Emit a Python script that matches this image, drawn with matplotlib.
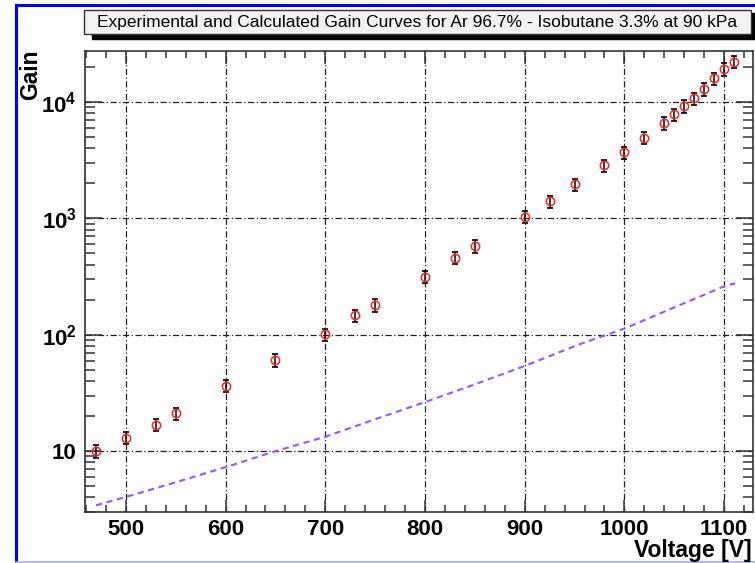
import matplotlib
matplotlib.use("Agg")
import matplotlib.pyplot as plt
import matplotlib.ticker as mticker
from matplotlib.lines import Line2D
from matplotlib.patches import Rectangle

# --- data
voltage = [470, 500, 530, 550, 600, 650, 700, 730, 750, 800, 830, 850, 900,
           925, 950, 980, 1000, 1020, 1040, 1050, 1060, 1070, 1080, 1090,
           1100, 1110]
gain = [10.0, 13.1, 16.9, 21.1, 36.3, 60.5, 101, 147, 180, 316, 458, 578,
        1030, 1400, 1960, 2860, 3700, 4940, 6590, 7830, 9250, 10750, 12950,
        16000, 19200, 22300]
rel_err = [0.12] * len(gain)

calc_voltage = [470, 500, 550, 600, 650, 700, 750, 800, 850, 900, 955, 1000,
                1050, 1100, 1111]
calc_gain = [3.42, 4.04, 5.4, 7.28, 10.0, 13.3, 18.8, 26.4, 37.5, 54, 83, 113,
             172, 261, 277]

TITLE = "Experimental and Calculated Gain Curves for Ar 96.7% - Isobutane 3.3% at 90 kPa"

plt.rcParams["font.family"] = ["Liberation Sans", "DejaVu Sans"]
plt.rcParams["mathtext.fontset"] = "custom"
plt.rcParams["mathtext.rm"] = "Liberation Sans:bold"
plt.rcParams["mathtext.it"] = "Liberation Sans:bold"
plt.rcParams["mathtext.bf"] = "Liberation Sans:bold"

W, H = 755, 563
fig = plt.figure(figsize=(W / 100, H / 100), dpi=100)
fig.patch.set_facecolor("white")


def px(x, y):
    """pixel (from top-left) -> figure fraction"""
    return x / W, 1 - y / H


# slide frame lines
fig.add_artist(Line2D([16 / W, 16 / W], [0, px(0, 5)[1]], color="#0000ff", lw=2.2))
fig.add_artist(Line2D([16 / W, 1], [px(0, 5)[1]] * 2, color="#0000ff", lw=2.2))
fig.add_artist(Line2D([16 / W, 1], [px(0, 561.5)[1]] * 2, color="#a8a8ff", lw=1.2))

# plot area
x0, y0 = px(85, 512)
x1, y1 = px(753, 51)
ax = fig.add_axes([x0, y0, x1 - x0, y1 - y0])

grid_style = dict(color="#202020", lw=0.9, linestyle=(0, (5, 2, 1, 2)))
ax.set_yscale("log")
ax.set_xlim(459, 1129)
ax.set_ylim(3.0, 27500)

ax.xaxis.set_major_locator(mticker.MultipleLocator(100))
ax.xaxis.set_minor_locator(mticker.MultipleLocator(20))
ax.yaxis.set_major_locator(mticker.FixedLocator([10, 100, 1000, 10000]))
ax.yaxis.set_major_formatter(mticker.FixedFormatter(
    ["10", "$10^{2}$", "$10^{3}$", "$10^{4}$"]))
ax.yaxis.set_minor_locator(mticker.LogLocator(base=10, subs=range(2, 10), numticks=20))
ax.yaxis.set_minor_formatter(mticker.NullFormatter())
ax.grid(True, which="major", **grid_style)

ax.tick_params(which="both", direction="in", top=True, right=True,
               color="#333333", width=1.1, labelsize=16)
ax.tick_params(axis="x", which="major", length=9, pad=5)
ax.tick_params(axis="y", which="major", length=12, pad=6)
ax.tick_params(axis="x", which="minor", length=5)
ax.tick_params(axis="y", which="minor", length=7)
for lab in ax.get_xticklabels() + ax.get_yticklabels():
    lab.set_fontweight("bold")
for sp in ax.spines.values():
    sp.set_color("#333333")
    sp.set_linewidth(1.2)

# calculated curve
ax.plot(calc_voltage, calc_gain, color="#a050ff", lw=1.5,
        linestyle=(0, (3.0, 2.2)), zorder=2)

# experimental points with errors
errs = [g * e for g, e in zip(gain, rel_err)]
ax.errorbar(voltage, gain, yerr=errs, fmt="none", ecolor="black",
            elinewidth=1.1, capsize=2.5, capthick=1.2, zorder=3)
ax.plot(voltage, gain, "o", mfc="none", mec="#ff2020", mew=1.1, ms=6, zorder=4)

# axis titles (ROOT style)
fx, fy = px(31, 49)
fig.text(fx, fy, "Gain", rotation=90, ha="center", va="top",
         fontsize=16.5, fontweight="bold")
fx, fy = px(752, 550)
fig.text(fx, fy, "Voltage [V]", ha="right", va="center",
         fontsize=16.5, fontweight="bold")

# title box with shadow
sx, sy = px(92, 39)
fig.add_artist(Rectangle((sx, sy), (755 - 92) / W, 26 / H,
                         transform=fig.transFigure, color="black", zorder=1))
bx, by = px(84, 34)
fig.add_artist(Rectangle((bx, by), (751 - 84) / W, 24 / H,
                         transform=fig.transFigure, facecolor="#f2f2f2",
                         edgecolor="#333333", lw=1.0, zorder=2))
tx, ty = px(417, 22)
fig.text(tx, ty, TITLE, ha="center", va="center", fontsize=12.5, zorder=3)

fig.savefig("out.png", dpi=100)
